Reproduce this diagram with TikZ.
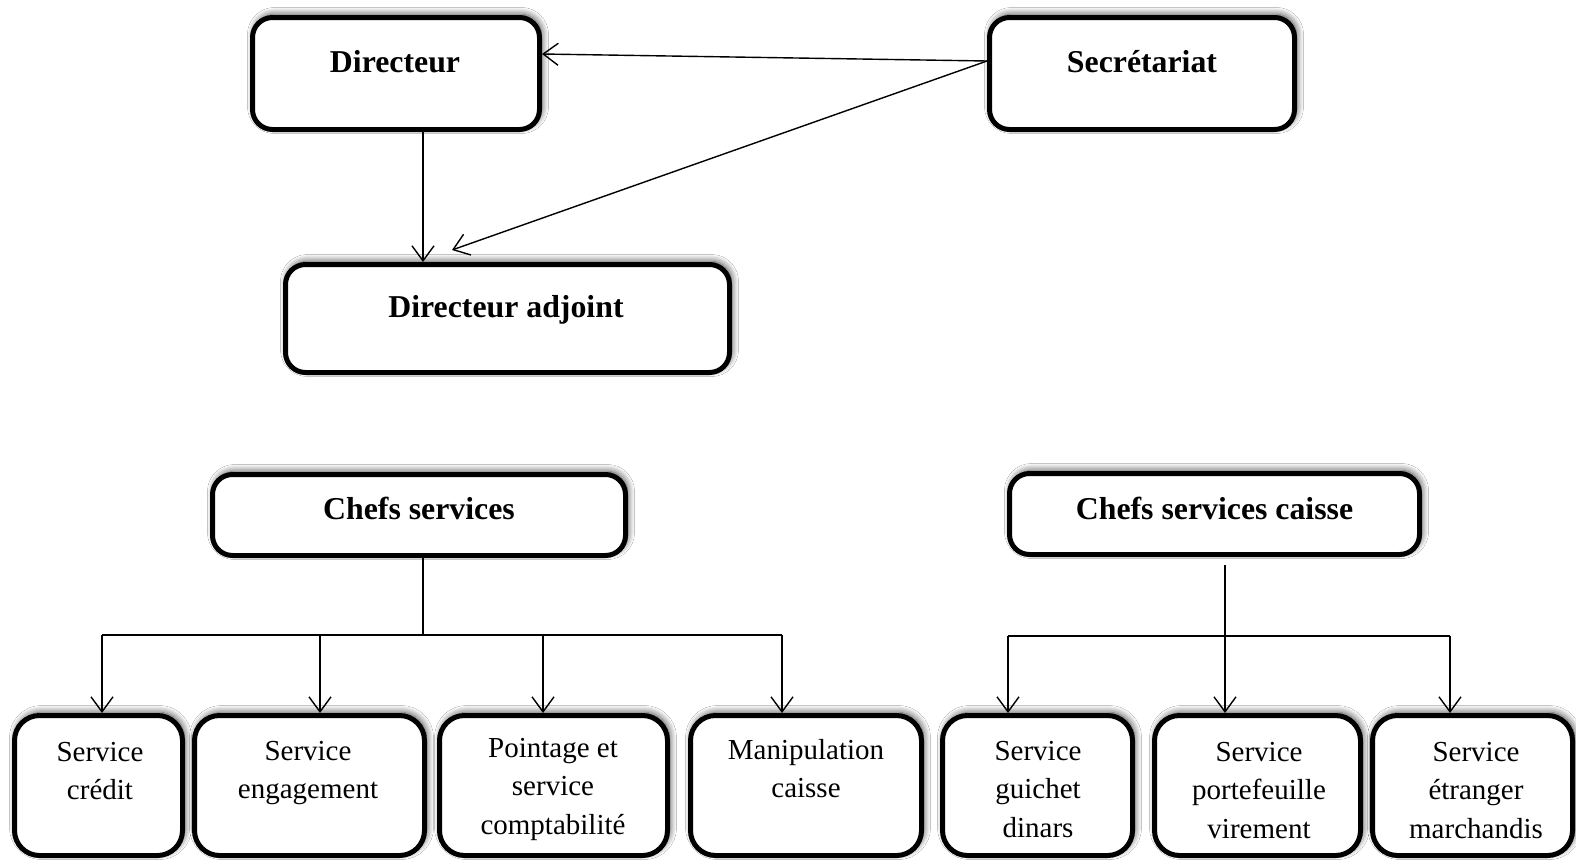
\documentclass[tikz,border=0pt]{standalone}
\usepackage{fontspec}
\setmainfont{Liberation Serif}
\usetikzlibrary{arrows.meta,shadows.blur}
\newcommand{\mlines}[1]{\begin{tabular}[t]{@{}c@{}}#1\end{tabular}}
\begin{document}
\begin{tikzpicture}[x=1pt,y=-1pt,
  orgbox/.style={draw=black, line width=5pt, rounded corners=20pt, fill=white, inner sep=0pt,
    blur shadow={shadow xshift=2pt, shadow yshift=3pt, shadow blur radius=7pt, shadow opacity=75, shadow blur steps=12}},
  lowbox/.style={orgbox, rounded corners=25pt, minimum height=140pt},
  ttl/.style={font=\fontsize{31.8}{38}\selectfont\bfseries, inner sep=0pt, anchor=base},
  lbl/.style={font=\fontsize{29}{38.5}\selectfont, inner sep=0pt, anchor=base},
  conn/.style={line width=1.4pt},
  arr/.style={conn, -{Straight Barb[length=15pt,width=22pt]}}
]
\path[use as bounding box, fill=white] (0,0) rectangle (1576,860);

% top level boxes
\node[orgbox, minimum width=287pt, minimum height=112pt] (dir) at (396,73.5) {};
\node[orgbox, minimum width=305pt, minimum height=112pt] (sec) at (1142,73.5) {};
\node[orgbox, minimum width=444pt, minimum height=108pt] (adj) at (507.5,318.5) {};
\node[orgbox, minimum width=413pt, minimum height=81pt] (chs) at (419,515) {};
\node[orgbox, minimum width=410pt, minimum height=81pt] (chc) at (1214.5,514) {};

% bottom boxes
\node[lowbox, minimum width=168pt] (s1) at (98.5,785.5) {};
\node[lowbox, minimum width=230pt] (s2) at (309.5,785.5) {};
\node[lowbox, minimum width=228pt] (s3) at (553.5,785.5) {};
\node[lowbox, minimum width=231pt] (s4) at (806,785.5) {};
\node[lowbox, minimum width=190pt] (s5) at (1037.5,785.5) {};
\node[lowbox, minimum width=206pt] (s6) at (1257.5,785.5) {};
\node[lowbox, minimum width=200pt] (s7) at (1472.5,785.5) {};

% texts
\node[ttl] (dirt) at (395,72) {Directeur};
\node[ttl] (sect) at (1142,72) {Secrétariat};
\node[ttl] (adjt) at (506,317) {Directeur adjoint};
\node[ttl] (chst) at (419,519) {Chefs services};
\node[ttl] (chct) at (1214.5,519) {Chefs services caisse};

\node[lbl] (s1t) at (100,761) {\mlines{Service\\crédit}};
\node[lbl] (s2t) at (308,760) {\mlines{Service\\engagement}};
\node[lbl] (s3t) at (553,757) {\mlines{Pointage et\\service\\comptabilité}};
\node[lbl] (s4t) at (806,759) {\mlines{Manipulation\\caisse}};
\node[lbl] (s5t) at (1038,760) {\mlines{Service\\guichet\\dinars}};
\node[lbl] (s6t) at (1259,761) {\mlines{Service\\portefeuille\\virement}};
\node[lbl] (s7t) at (1476,761) {\mlines{Service\\étranger\\marchandis}};

% top connectors
\draw[arr] ([yshift=12.5pt]sec.west) -- ([yshift=19.5pt]dir.east);
\draw[arr] ([yshift=12.5pt]sec.west) -- ([xshift=-55.5pt,yshift=12pt]adj.north);
\draw[arr] ([xshift=27pt]dir.south) -- ([xshift=27pt]dir.south |- adj.north);

% left tree
\coordinate (lj) at (423,635);
\coordinate (la) at (102,635);
\coordinate (lb) at (320,635);
\coordinate (lc) at (543,635);
\coordinate (ld) at (782,635);
\draw[conn] ([xshift=4pt]chs.south) -- (lj);
\draw[conn] (la) -- (ld);
\draw[arr] (la) -- (la |- s1.north);
\draw[arr] (lb) -- (lb |- s2.north);
\draw[arr] (lc) -- (lc |- s3.north);
\draw[arr] (ld) -- (ld |- s4.north);

% right tree
\coordinate (rt) at (1225,565);
\coordinate (rj) at (1225,636);
\coordinate (ra) at (1008,636);
\coordinate (rc) at (1450,636);
\draw[conn] (rt) -- (rj);
\draw[conn] (ra) -- (rc);
\draw[arr] (ra) -- (ra |- s5.north);
\draw[arr] (rj) -- (rj |- s6.north);
\draw[arr] (rc) -- (rc |- s7.north);
\end{tikzpicture}
\end{document}
